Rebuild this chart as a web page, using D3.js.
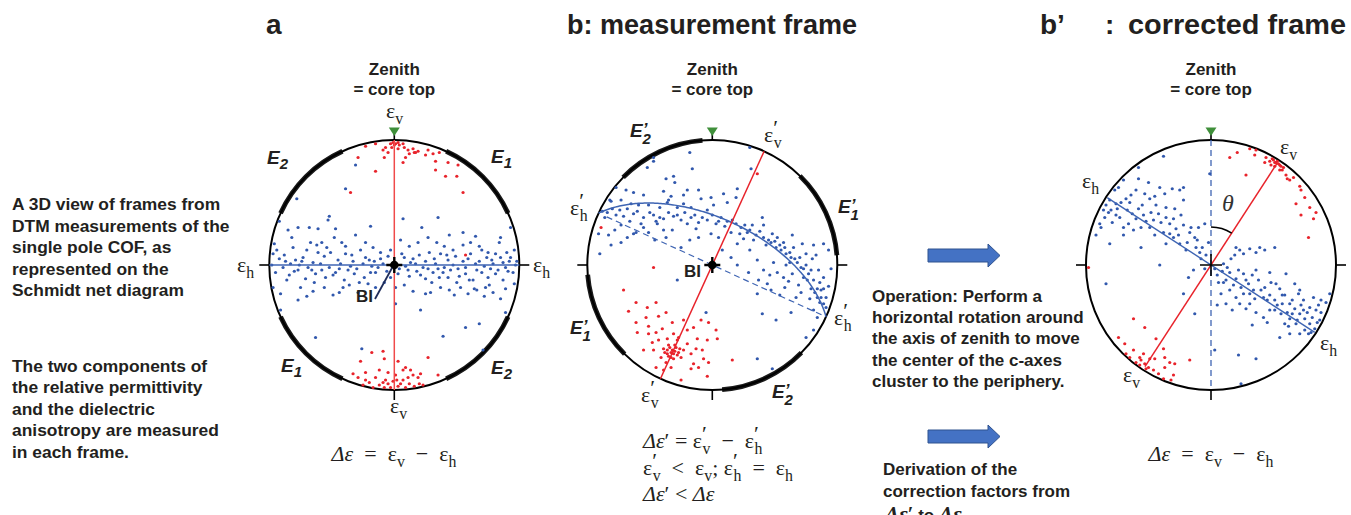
<!DOCTYPE html>
<html>
<head>
<meta charset="utf-8">
<script src="https://cdn.jsdelivr.net/npm/d3@7"></script>
<style>
  html, body { margin: 0; padding: 0; background: #fff; }
  svg { display: block; }
</style>
</head>
<body>
<svg id="fig" width="1351" height="515"></svg>
<script>
// ---------------------------------------------------------------
// c-axis poles on the Schmidt net, in net coordinates
// (x right, y up, net radius = 100)
// ---------------------------------------------------------------

// a: measurement frame seen from the core top
const aBlue = [
  [-31,80],[-39,61],[-78,53],[35,38],[7,37],[-52,39],[-53,36],[-19,31],[22,30],[44,24],[55,26],[65,23],[85,22],[93,30],
  [-92,35],[-85,28],[-77,30],[-68,30],[-61,29],[-47,29],[-31,24],[-48,22],[-23,18],[-96,17],[-82,22],[-67,18],[-39,15],
  [-11,10],[5,20],[12,15],[19,18],[27,22],[34,18],[47,12],[61,18],[68,15],[75,10],[84,18],[96,12],
  [-97,9],[-92,5],[-87,3],[-79,4],[-73,6],[-65,2],[-61,10],[-56,7],[-51,10],[-45,4],[-39,9],[-33,3],[-27,12],[-23,6],
  [-16,3],[-11,5],[-5,7],[8,6],[13,2],[20,8],[25,3],[32,5],[37,9],[43,4],[49,7],[55,3],[61,9],[68,3],[74,6],[81,9],
  [87,2],[93,6],[98,3],
  [-98,0],[-89,-2],[-83,1],[-76,0],[-69,-2],[-59,1],[-52,-2],[-43,1],[-35,-1],[-25,1],[-18,-1],[-9,1],[9,-1],[17,1],
  [23,-2],[33,1],[40,-2],[47,0],[57,-2],[65,1],[72,-1],[79,1],[89,-2],[97,0],
  [-95,-6],[-84,-8],[-77,-4],[-71,-11],[-63,-7],[-55,-10],[-47,-6],[-40,-12],[-32,-7],[-24,-10],[-15,-6],[-8,-14],
  [3,-7],[12,-9],[18,-5],[25,-11],[31,-6],[39,-6],[43,-10],[50,-14],[57,-7],[63,-12],[70,-6],[75,-10],[81,-7],
  [87,-12],[95,-6],
  [-91,-23],[-77,-28],[-75,-18],[-65,-21],[-56,-18],[-49,-24],[-36,-16],[-29,-22],[-21,-15],[-15,-18],[1,-18],
  [1,-31],[8,-16],[15,-21],[21,-36],[25,-23],[29,-22],[37,-18],[44,-20],[53,-18],[59,-23],[64,-19],[73,-18],
  [79,-22],[85,-27],[89,-19],[96,-15],[72,-25],
  [-63,-58],[57,-50],[39,-57],[68,-47],[89,-38],[71,-68],[-26,-67],[-91,-36],[-97,-18],
  [-94,12],[-88,8],[-80,-5],[-74,3],[-70,12],[-66,-4],[-58,-4],[-54,14],[-49,-8],[-44,-3],[-42,18],[-37,-4],[-34,8],
  [-30,-3],[-28,-14],[-20,4],[-19,-6],[-13,-2],[-6,-5],[-3,12],[4,-3],[6,9],[11,-4],[15,5],[21,-8],[27,-3],[28,10],
  [35,-3],[36,-10],[42,8],[45,-4],[51,-3],[52,-9],[59,5],[60,-12],[66,-4],[70,12],[77,-3],[78,4],[83,-4],[85,6],
  [91,-5],[92,3],[-86,-12],[-81,14],[-64,-14],[-58,18],[-41,-18],[-17,14],[30,-14],[48,-24],[66,-20],[76,-16],
  [90,10],[-70,-25],[-44,-22],[55,16],[-3,-10],[40,15],[-62,16]
];
const aRed = [
  [-1,98],[1,97],[3,98],[0,96],[4,96],[-3,97],[7,97],[-2,94],[3,93],[8,94],[11,92],[15,93],[17,90],[12,89],[-7,94],
  [-9,92],[-5,90],[-23,95],[-15,97],[9,86],[7,82],[16,90],[19,91],[27,92],[25,88],[31,89],[36,90],[33,83],[43,82],
  [33,76],[41,71],[50,71],[51,80],[55,58],[-29,86],[-8,86],[-15,75],[-35,58],[57,8],
  [-25,-96],[-23,-92],[-17,-98],[-12,-96],[-8,-98],[-5,-95],[-3,-98],[3,-97],[5,-95],[9,-98],[12,-95],[16,-97],
  [20,-95],[23,-96],[-9,-94],[-7,-92],[-1,-93],[2,-92],[7,-92],[11,-90],[15,-88],[19,-90],[21,-87],[-15,-90],
  [-33,-87],[-29,-90],[-27,-77],[-18,-70],[-9,-69],[-8,-75],[3,-77],[9,-82],[13,-84],[7,-84],[27,-74],[35,-88],
  [-12,-84],[-5,-86],[1,-88],[-23,-86],[-20,-94]
];

// b: measurement frame
const bBlue = [
  [-18,90],[30,94],[-47,83],[-52,78],[-16,77],[31,77],[-37,69],[-31,71],[-30,66],[-77,62],[-69,60],[-63,58],[-55,56],
  [-39,59],[-33,55],[-20,60],[-11,60],[-1,54],[1,48],[9,57],[20,61],[19,54],[12,50],[-9,53],[-23,56],[-35,52],
  [-82,52],[-81,51],[-73,52],[-65,49],[-59,48],[-51,48],[-42,46],[-36,50],[-28,46],[-17,46],[-4,44],[-23,49],
  [-88,43],[-84,42],[-77,40],[-71,39],[-63,41],[-55,38],[-47,40],[-39,37],[-31,39],[-25,36],[-17,38],[-11,34],
  [-4,36],[3,33],[7,38],[12,35],[19,33],[23,30],[28,26],[35,24],[41,22],[47,18],[51,14],[55,12],[59,9],[63,6],
  [68,2],[73,-3],[77,-7],[81,-12],[84,-19],[87,-26],[89,-31],
  [-91,25],[-83,24],[-81,16],[-73,32],[-61,26],[-51,26],[-37,22],[-32,28],[-25,14],[-13,29],[-11,22],[-1,25],
  [5,22],[15,26],[20,17],[25,21],[32,32],[40,38],[41,32],[48,25],[52,22],[57,18],[64,24],[72,17],[81,16],[89,17],
  [93,12],[75,9],[80,5],[83,8],[65,14],[59,0],[41,-4],[37,-12],[44,-15],[52,-6],[57,-10],[61,-13],[64,-7],[69,-16],
  [73,-10],[79,-19],[85,-4],[89,-10],[95,-3],[93,-17],[89,-19],[84,-26],[91,-34],[81,-36],[84,-42],[75,-58],
  [81,-52],[63,-38],[51,-44],[40,-39],[36,-23],[47,-20],[20,0],[29,-6],[-28,-12],[-47,86],[-5,-38],[15,6],
  [36,-75],[48,-83],[-90,9],[-39,28],[-63,25],[-73,18],[-55,30],[-44,33],
  [-86,38],[-80,45],[-74,44],[-68,45],[-66,35],[-60,43],[-57,33],[-50,42],[-45,35],[-42,38],[-35,42],[-28,40],
  [-22,42],[-20,33],[-14,40],[-8,38],[0,40],[5,35],[10,31],[16,36],[22,25],[26,32],[30,28],[33,20],[38,27],[43,16],
  [45,20],[50,19],[54,16],[58,14],[62,10],[62,2],[66,5],[70,6],[71,-2],[75,0],[76,-12],[79,-4],[82,-22],[86,-14],
  [87,-20],[78,-27],[71,-22],[67,-26],[58,-18],[54,-24],[46,-8],[49,2],[-78,28],[-68,22],[-46,20],[-18,20],[8,12],
  [30,12],[36,4],[91,-26],[86,-30]
];
const bRed = [
  [-89,30],[-47,-2],[-71,-20],[36,73],
  [-61,-30],[-52,-34],[-45,-30],[-67,-37],[-61,-46],[-53,-42],[-43,-41],[-37,-38],[-51,-49],[-40,-51],[-32,-46],
  [-23,-44],[-15,-50],[-9,-44],[-3,-46],[3,-52],[4,-59],[-4,-60],[-12,-59],[-20,-52],[-27,-58],[-31,-55],[-36,-59],
  [-43,-60],[-48,-62],[-55,-68],[-47,-68],[-39,-67],[-35,-64],[-32,-68],[-29,-66],[-27,-70],[-36,-71],[-41,-74],
  [-33,-74],[-31,-71],[-25,-74],[-23,-68],[-20,-63],[-17,-71],[-13,-67],[-8,-68],[-7,-75],[-15,-79],[-17,-83],
  [-11,-82],[-3,-78],[-4,-89],[-25,-92],[-33,-82],[-37,-78],[-45,-82],[-39,-84],[-28,-60],[16,-76],[-51,-55],
  [-45,-54],[-60,-54],[-34,-66],[-30,-69],[-28,-72],[-36,-68],[-33,-70],[-30,-64],[-26,-67],[-38,-70],[-35,-73],
  [-31,-75]
];

// b': corrected frame
const cBlue = [
  [-38,87],[-58,78],[-70,68],[-74,62],[-77,60],[-81,52],[-84,48],[-86,44],[-89,33],[-92,24],[-82,42],[-76,49],
  [-68,53],[-64,56],[-58,69],[-50,66],[-49,53],[-41,62],[-37,57],[-31,61],[-25,60],[-22,52],[-29,45],[-36,46],
  [-42,41],[-48,42],[-54,40],[-60,37],[-66,33],[-73,38],[-79,34],[-81,17],[-70,24],[-62,28],[-56,30],[-49,30],
  [-45,24],[-38,26],[-33,33],[-28,29],[-22,32],[-17,26],[-13,22],[-12,14],[-9,10],[-20,12],[-25,17],[-30,22],
  [-36,17],[-41,0],[-56,14],[-84,-15],[-22,-23],[-13,-39],[-18,-10],[-14,-4],[-8,5],[-5,-3],[-1,73],[-22,62],
  [-5,33],[-10,30],
  [3,-3],[5,-8],[10,1],[12,-12],[16,5],[19,8],[23,12],[26,9],[31,13],[36,10],[43,12],[51,14],[15,-6],[20,-11],
  [26,-7],[30,-15],[34,-20],[38,-12],[43,-18],[47,-24],[51,-28],[55,-19],[59,-24],[63,-31],[67,-35],[71,-39],
  [75,-43],[79,-47],[83,-51],[60,-7],[67,-15],[70,-23],[74,-28],[82,-26],[86,-32],[87,-44],[95,-23],[47,-36],
  [42,-42],[36,-38],[31,-31],[26,-23],[20,-26],[15,-20],[8,-23],[5,-32],[3,-68],[22,-72],[36,-75],[59,-47],
  [63,-55],[55,-58],[51,-36],[56,-39],[63,-43],[68,-47],[75,-52],[80,-54],[84,-36],[71,-55],[57,-31],[52,-15],
  [42,-26],[31,-23],[23,-31],[17,-36],[12,-31],[24,-95],[39,14],[20,14],[36,-4],[47,-6],[71,-20],[79,-34],
  [74,-36],[65,-39],
  [-85,38],[-80,44],[-75,45],[-72,50],[-67,44],[-63,41],[-58,45],[-55,48],[-52,35],[-46,36],[-44,48],[-40,34],
  [-36,38],[-33,25],[-30,37],[-26,24],[-24,40],[-19,18],[-16,30],[-11,20],[-7,14],[-4,8],[-2,18],[-65,50],[-60,60],
  [-53,57],[-45,55],[-70,30],[-76,40],[-88,30],
  [6,-14],[9,-5],[13,-2],[18,-16],[22,-4],[24,-18],[28,-12],[33,-8],[35,-27],[40,-20],[45,-28],[48,-14],[53,-32],
  [57,-24],[61,-38],[65,-28],[69,-44],[72,-32],[77,-38],[81,-42],[85,-46],[88,-38],[78,-55],[62,-49],[45,-46],
  [28,-35],[10,-14],[33,-48],[88,-28],[92,-30]
];
const cRed = [
  [15,86],[21,90],[31,93],[35,88],[44,86],[47,83],[50,84],[52,82],[55,80],[51,79],[48,80],[57,76],[60,72],[63,68],
  [61,69],[66,70],[71,63],[72,60],[68,49],[75,54],[79,46],[84,42],[82,37],[72,40],[78,22],[28,72],[55,76],[58,78],
  [43,82],[49,85],[36,92],[53,83],[54,81],[51,82],[56,79],
  [-62,-43],[-53,-50],[-74,-58],[-69,-63],[-62,-68],[-57,-74],[-56,-76],[-53,-79],[-57,-80],[-60,-78],[-50,-82],
  [-46,-84],[-42,-87],[-38,-91],[-32,-92],[-30,-88],[-37,-82],[-45,-75],[-44,-59],[-38,-67],[-33,-78],[-29,-79],
  [-65,-74],[-68,-71],[-52,-83],[-49,-75],[-54,-71],[-17,-76],[-37,-74],[-98,-2]
];

// Azimuths (degrees clockwise from the zenith) of the frame sectors E1/E2
const sectorsA = [45, 135, 225, 315];
const sectorsB = [65, 155, 245, 335];

// Principal directions (azimuth, degrees clockwise from zenith)
const axisA = { vertical: 0, horizontal: 90 };
const axisB = { vertical: 24.5, girdlePoleDist: 70 };
const thetaDeg = 33;          // correction angle θ in frame b'

// ---------------------------------------------------------------
const SANS = "'Liberation Sans', Arial, Helvetica, sans-serif";
const SERIF = "'Liberation Serif', 'DejaVu Serif', 'Times New Roman', serif";
const INK = "#231f20";
const BLUE = "#3158ad";
const BLUE_LINE = "#3f65b3";
const RED = "#e8232b";
const GREEN = "#3f8f3a";
const R = 125;

const svg = d3.select("#fig");
const rad = d => d * Math.PI / 180;
const polar = (az, d) => [d * Math.sin(rad(az)), d * Math.cos(rad(az))];

function netScales(cx, cy) {
  return {
    x: d3.scaleLinear().domain([-100, 100]).range([cx - R, cx + R]),
    y: d3.scaleLinear().domain([-100, 100]).range([cy + R, cy - R])
  };
}

// maths-style text: parts are strings or {b, p (prime), s (subscript), i (italic)}
function mathText(sel, x, y, parts, size, anchor) {
  const t = sel.append("text")
    .attr("x", x).attr("y", y)
    .attr("font-family", SERIF).attr("font-size", size)
    .attr("fill", INK).attr("text-anchor", anchor || "start")
    .style("white-space", "pre");
  let off = 0;
  const add = (txt, o, fs) => {
    const s = t.append("tspan").attr("dy", o - off).text(txt);
    off = o;
    if (fs) s.attr("font-size", fs);
    return s;
  };
  parts.forEach(p => {
    if (typeof p === "string") { add(p, 0); return; }
    add(p.b, 0).attr("font-style", p.i ? "italic" : null);
    if (p.p) add("\u2032", -0.3 * size, 1.0 * size);
    if (p.s) {
      const s = add(p.s, 0.26 * size, 0.72 * size);
      if (p.p) s.attr("dx", -0.2 * size);
    }
  });
  add("", 0);
  return t;
}

function eLabel(sel, x, y, sub, prime) {
  const t = sel.append("text").attr("x", x).attr("y", y)
    .attr("font-family", SANS).attr("font-weight", "bold").attr("font-style", "italic")
    .attr("font-size", 19).attr("fill", INK);
  t.append("tspan").text("E");
  if (prime) {
    t.append("tspan").attr("dy", -2).attr("font-size", 17).text("\u2019");
    t.append("tspan").attr("dx", -5).attr("dy", 9).attr("font-size", 15).text(sub);
  } else {
    t.append("tspan").attr("dy", 5).attr("font-size", 15).text(sub);
  }
}

function drawFrame(g, cx, cy, sectors) {
  // thick sector arcs
  const arc = d3.arc().innerRadius(R - 2.4).outerRadius(R + 2.4);
  g.append("g").attr("transform", `translate(${cx},${cy})`)
    .selectAll("path").data(sectors).join("path")
    .attr("d", a => arc({ startAngle: rad(a - 20.5), endAngle: rad(a + 20.5) }))
    .attr("fill", "#1a1a1a");
  // primitive circle
  g.append("circle").attr("cx", cx).attr("cy", cy).attr("r", R)
    .attr("fill", "none").attr("stroke", "#000").attr("stroke-width", 2);
  // ticks at the four cardinal points
  const ticks = [0, 90, 180, 270];
  g.selectAll(null).data(ticks).join("line")
    .attr("x1", a => cx + R * Math.sin(rad(a)))
    .attr("y1", a => cy - R * Math.cos(rad(a)))
    .attr("x2", a => cx + (R + 10) * Math.sin(rad(a)))
    .attr("y2", a => cy - (R + 10) * Math.cos(rad(a)))
    .attr("stroke", "#000").attr("stroke-width", 1.6);
  // zenith marker
  g.append("path")
    .attr("d", `M${cx - 5.5},${cy - R - 12.5}L${cx + 5.5},${cy - R - 12.5}L${cx},${cy - R - 4}Z`)
    .attr("fill", GREEN);
}

function drawDots(g, s, data, color) {
  g.append("g").selectAll("circle").data(data).join("circle")
    .attr("cx", d => s.x(d[0])).attr("cy", d => s.y(d[1]))
    .attr("r", 1.6).attr("fill", color);
}

function diameter(g, s, az, len, color, width, dash) {
  const p = polar(az, len), q = polar(az + 180, len);
  return g.append("line")
    .attr("x1", s.x(p[0])).attr("y1", s.y(p[1]))
    .attr("x2", s.x(q[0])).attr("y2", s.y(q[1]))
    .attr("stroke", color).attr("stroke-width", width)
    .attr("stroke-dasharray", dash || null);
}

function centreStar(g, cx, cy) {
  g.append("path")
    .attr("d", `M${cx - 8},${cy}L${cx + 8},${cy}M${cx},${cy - 8}L${cx},${cy + 8}`)
    .attr("stroke", "#000").attr("stroke-width", 2.4);
  g.append("circle").attr("cx", cx).attr("cy", cy).attr("r", 4.3).attr("fill", "#000");
}

function zenithText(g, cx) {
  const t = g.append("g").attr("font-family", SANS).attr("font-weight", "bold")
    .attr("font-size", 17).attr("fill", INK).attr("text-anchor", "middle");
  t.append("text").attr("x", cx).attr("y", 75).text("Zenith");
  t.append("text").attr("x", cx).attr("y", 95).text("= core top");
}

// ---------------------------------------------------------------
// Panel a
// ---------------------------------------------------------------
{
  const cx = 394.3, cy = 265;
  const s = netScales(cx, cy);
  const g = svg.append("g");
  zenithText(g, cx);
  drawFrame(g, cx, cy, sectorsA);
  drawDots(g, s, aBlue, BLUE);
  drawDots(g, s, aRed, RED);
  diameter(g, s, axisA.horizontal, 100, BLUE_LINE, 1.5);
  diameter(g, s, axisA.vertical, 100, "#f04a4a", 1.5);
  centreStar(g, cx, cy);
  g.append("line").attr("x1", 375).attr("y1", 299).attr("x2", 392).attr("y2", 268)
    .attr("stroke", "#1f2d5a").attr("stroke-width", 1.8);
  g.append("text").attr("x", 356).attr("y", 302).attr("font-family", SANS)
    .attr("font-weight", "bold").attr("font-size", 17).attr("fill", INK).text("BI");
  eLabel(g, 267, 164, "2");
  eLabel(g, 491, 163, "1");
  eLabel(g, 281, 372, "1");
  eLabel(g, 491, 374, "2");
  mathText(g, 386, 118, [{ b: "ε", s: "v" }], 22);
  mathText(g, 390, 413, [{ b: "ε", s: "v" }], 22);
  mathText(g, 237, 272, [{ b: "ε", s: "h" }], 22);
  mathText(g, 533, 272, [{ b: "ε", s: "h" }], 22);
  mathText(g, 394, 461, [{ b: "Δε", i: true }, "  =  ", { b: "ε", s: "v" }, "  \u2212  ", { b: "ε", s: "h" }], 22, "middle");
}

// ---------------------------------------------------------------
// Panel b
// ---------------------------------------------------------------
{
  const cx = 712.3, cy = 265;
  const s = netScales(cx, cy);
  const g = svg.append("g");
  zenithText(g, cx);
  drawFrame(g, cx, cy, sectorsB);
  drawDots(g, s, bBlue, BLUE);
  drawDots(g, s, bRed, RED);

  // girdle: great circle whose pole sits on the c-axis cluster
  const proj = d3.geoAzimuthalEqualArea()
    .scale(R / Math.SQRT2).translate([cx, cy]).clipAngle(90).precision(0.1);
  const pXY = polar(axisB.vertical + 180, axisB.girdlePoleDist);
  const pole = proj.invert([s.x(pXY[0]), s.y(pXY[1])]);
  const circle = d3.geoCircle().center(pole).radius(90).precision(1)();
  g.append("path")
    .datum({ type: "LineString", coordinates: circle.coordinates[0] })
    .attr("d", d3.geoPath(proj))
    .attr("fill", "none").attr("stroke", BLUE_LINE).attr("stroke-width", 1.5);
  diameter(g, s, axisB.vertical + 90, 96, BLUE_LINE, 1.2, "6,4");
  diameter(g, s, axisB.vertical, 100, RED, 1.5);
  centreStar(g, cx, cy);
  g.append("text").attr("x", 684).attr("y", 277).attr("font-family", SANS)
    .attr("font-weight", "bold").attr("font-size", 17).attr("fill", INK).text("BI");
  eLabel(g, 630, 137, "2", true);
  eLabel(g, 838, 213, "1", true);
  eLabel(g, 570, 334, "1", true);
  eLabel(g, 772, 398, "2", true);
  mathText(g, 570, 215, [{ b: "ε", p: true, s: "h" }], 22);
  mathText(g, 764, 142, [{ b: "ε", p: true, s: "v" }], 22);
  mathText(g, 834, 325, [{ b: "ε", p: true, s: "h" }], 22);
  mathText(g, 641, 402, [{ b: "ε", p: true, s: "v" }], 22);
  mathText(g, 643, 448, [{ b: "Δε", i: true }, "\u2032 = ", { b: "ε", p: true, s: "v" }, "  \u2212  ", { b: "ε", p: true, s: "h" }], 22);
  mathText(g, 643, 475, [{ b: "ε", p: true, s: "v" }, "  <  ", { b: "ε", s: "v" }, "; ", { b: "ε", p: true, s: "h" }, "  =  ", { b: "ε", s: "h" }], 22);
  mathText(g, 643, 501, [{ b: "Δε", i: true }, "\u2032 < ", { b: "Δε", i: true }], 22);
}

// ---------------------------------------------------------------
// Panel b'
// ---------------------------------------------------------------
{
  const cx = 1211, cy = 265;
  const s = netScales(cx, cy);
  const g = svg.append("g");
  zenithText(g, cx);
  drawFrame(g, cx, cy, []);
  diameter(g, s, 0, 100, BLUE_LINE, 1.3, "6,4");
  drawDots(g, s, cBlue, BLUE);
  drawDots(g, s, cRed, RED);
  diameter(g, s, thetaDeg + 90, 99, BLUE_LINE, 1.4);
  diameter(g, s, thetaDeg, 97, RED, 1.5);
  g.append("path")
    .attr("d", `M${cx - 11},${cy}L${cx + 11},${cy}M${cx},${cy - 11}L${cx},${cy + 11}`)
    .attr("stroke", "#000").attr("stroke-width", 1.6);
  const p = d3.path();
  p.arc(cx, cy, 38, rad(-90), rad(thetaDeg - 90));
  g.append("path").attr("d", p.toString()).attr("fill", "none")
    .attr("stroke", "#000").attr("stroke-width", 1.6);
  g.append("text").attr("x", 1222).attr("y", 211).attr("font-family", SERIF)
    .attr("font-style", "italic").attr("font-size", 24).attr("fill", "#333").text("θ");
  mathText(g, 1280, 154, [{ b: "ε", s: "v" }], 22);
  mathText(g, 1082, 188, [{ b: "ε", s: "h" }], 22);
  mathText(g, 1320, 350, [{ b: "ε", s: "h" }], 22);
  mathText(g, 1123, 382, [{ b: "ε", s: "v" }], 22);
  mathText(g, 1211, 461, [{ b: "Δε", i: true }, "  =  ", { b: "ε", s: "v" }, "  \u2212  ", { b: "ε", s: "h" }], 22, "middle");
}

// ---------------------------------------------------------------
// Titles, notes and arrows
// ---------------------------------------------------------------
const titles = svg.append("g").attr("font-family", SANS).attr("font-weight", "bold")
  .attr("font-size", 28).attr("fill", INK);
titles.append("text").attr("x", 266).attr("y", 34).text("a");
titles.append("text").attr("x", 567).attr("y", 34).attr("textLength", 290)
  .attr("lengthAdjust", "spacingAndGlyphs").text("b: measurement frame");
titles.append("text").attr("x", 1040).attr("y", 34).text("b\u2019");
titles.append("text").attr("x", 1105).attr("y", 34).text(":");
titles.append("text").attr("x", 1128).attr("y", 34).attr("textLength", 218)
  .attr("lengthAdjust", "spacingAndGlyphs").text("corrected frame");

const noteLeft1 = ["A 3D view of frames from", "DTM measurements of the", "single pole COF, as",
  "represented on the", "Schmidt net diagram"];
const noteLeft2 = ["The two components of", "the relative permittivity", "and the dielectric",
  "anisotropy are measured", "in each frame."];
const noteMid1 = ["Operation: Perform a", "horizontal rotation around", "the axis of zenith to move",
  "the center of the c-axes", "cluster to the periphery."];
const noteMid2 = ["Derivation of the", "correction factors from"];

function note(lines, x, y0, step, size) {
  svg.append("g").attr("font-family", SANS).attr("font-weight", "bold")
    .attr("font-size", size).attr("fill", INK)
    .selectAll("text").data(lines).join("text")
    .attr("x", x).attr("y", (d, i) => y0 + i * step).text(d => d);
}
note(noteLeft1, 12, 210, 21.5, 17.4);
note(noteLeft2, 12, 372, 21.4, 17.4);
note(noteMid1, 872, 302, 21.2, 17);
note(noteMid2, 883, 475, 21.7, 17);
svg.append("text").attr("x", 885).attr("y", 521).attr("font-family", SANS)
  .attr("font-weight", "bold").attr("font-size", 17).attr("fill", INK)
  .call(t => {
    t.append("tspan").attr("font-family", SERIF).attr("font-style", "italic").attr("font-size", 22).text("Δε");
    t.append("tspan").attr("font-family", SERIF).attr("font-size", 20).text("\u2032");
    t.append("tspan").text(" to ");
    t.append("tspan").attr("font-family", SERIF).attr("font-style", "italic").attr("font-size", 22).text("Δε");
  });

// block arrows
function blockArrow(x0, x1, yc) {
  const bh = 6.5, hh = 11.5, hl = 12;
  const pts = [[x0, yc - bh], [x1 - hl, yc - bh], [x1 - hl, yc - hh], [x1, yc],
               [x1 - hl, yc + hh], [x1 - hl, yc + bh], [x0, yc + bh]];
  svg.append("path").attr("d", d3.line()(pts) + "Z")
    .attr("fill", "#4472c4").attr("stroke", "#2f528f").attr("stroke-width", 1);
}
blockArrow(928, 1000, 255.5);
blockArrow(928, 1000, 436.5);
</script>
</body>
</html>
